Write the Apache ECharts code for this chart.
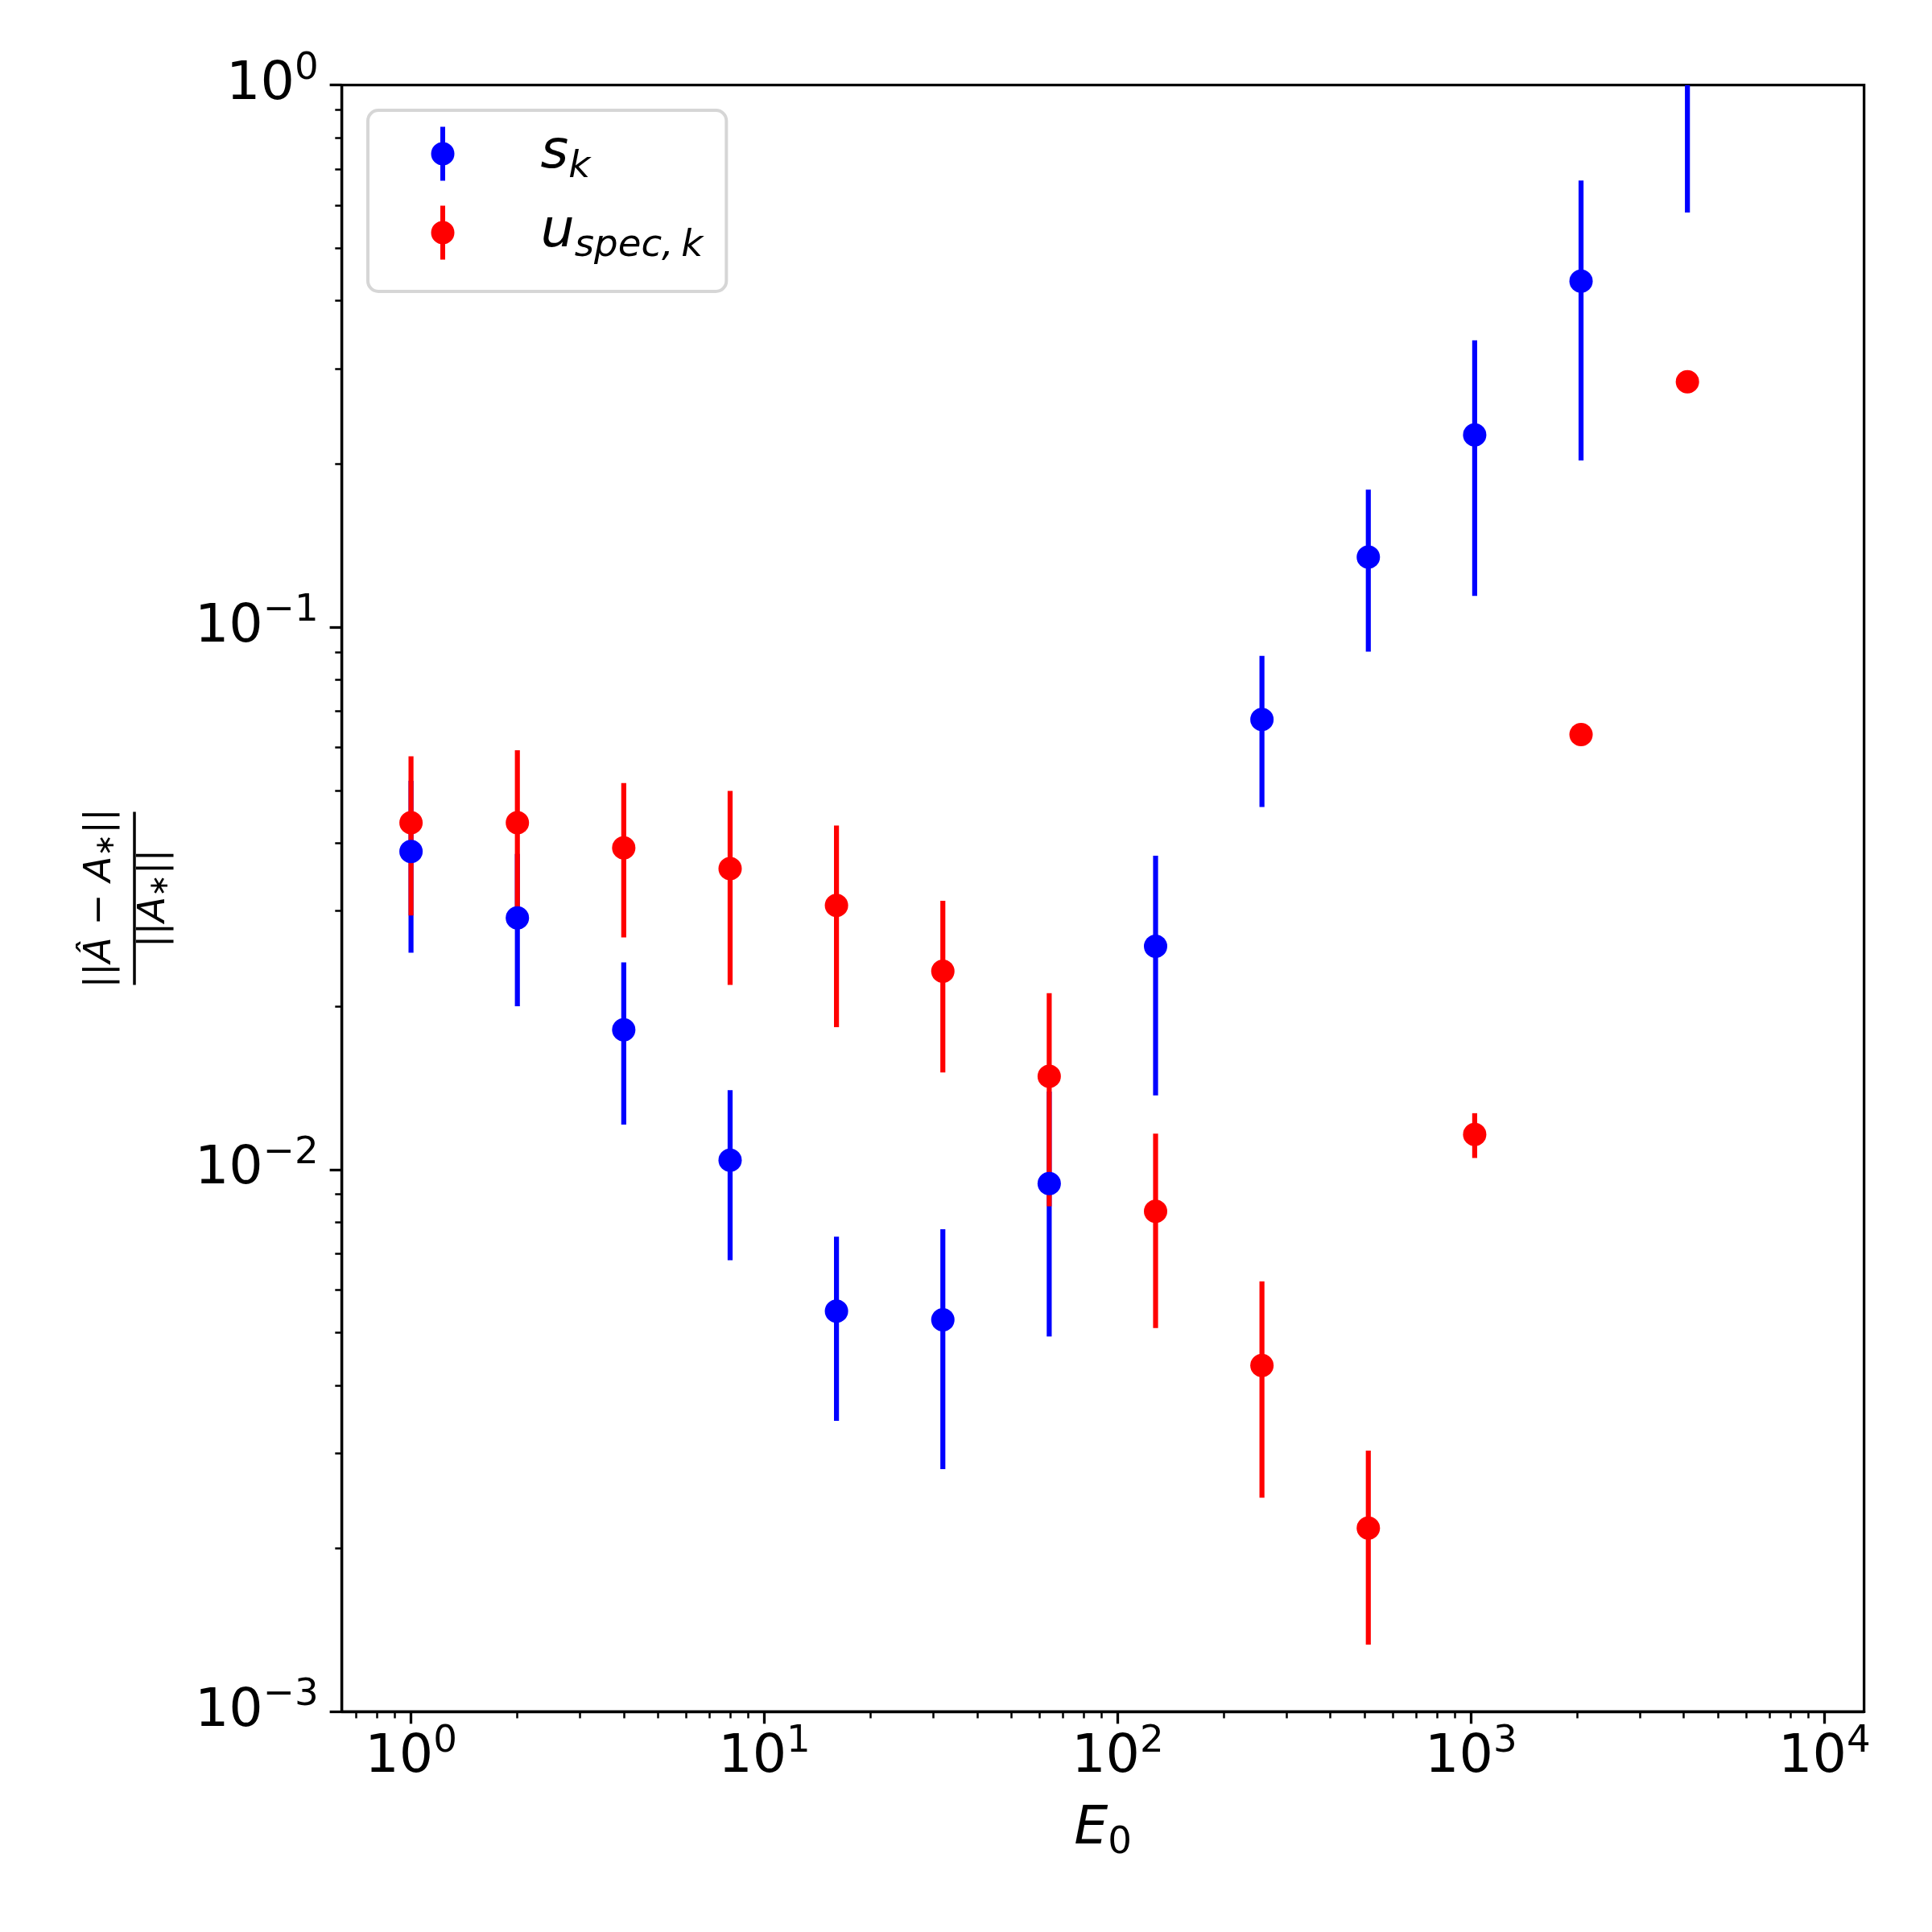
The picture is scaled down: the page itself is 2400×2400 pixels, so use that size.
<!DOCTYPE html>
<html>
<head>
<meta charset="utf-8">
<script src="https://cdn.jsdelivr.net/npm/echarts@6/dist/echarts.min.js"></script>
<style>
  html, body { margin: 0; padding: 0; background: #fff; }
  #chart { width: 2400px; height: 2400px; }
</style>
</head>
<body>
<div id="chart"></div>
<script>
// E0 values (x) and the two error-bar series: mean and std
const e0 = [1, 2, 4, 8, 16, 32, 64, 128, 256, 512, 1024, 2048, 4096]
const sMean = [0.0386, 0.0291, 0.0181, 0.0104, 0.00548, 0.00528, 0.00942, 0.0258, 0.0676, 0.1348, 0.2263, 0.435, 1.25]
const sStd = [0.0135, 0.0091, 0.0060, 0.0036, 0.00204, 0.00248, 0.0045, 0.0121, 0.0210, 0.0446, 0.112, 0.232, 0.668]
const uMean = [0.0436, 0.0436, 0.0392, 0.0359, 0.0307, 0.0232, 0.01485, 0.00837, 0.00435, 0.00218, 0.0116, 0.0634, 0.2836]
const uStd = [0.0142, 0.0157, 0.0124, 0.0140, 0.0124, 0.0081, 0.0063, 0.00327, 0.00187, 0.00085, 0.0011, 0.002, 0.008]

// axis ranges (data units) and decade tick labels (exponents)
const xRange = [0.637, 12950]
const yRange = [0.001, 1]
const xDecades = [0, 1, 2, 3, 4]
const yDecades = [-3, -2, -1, 0]

const FONT = 'DejaVu Sans'
const lg = (v) => Math.log10(v)

function minorTicks(range) {
  const lo = lg(range[0])
  const hi = lg(range[1])
  const out = []
  for (let k = Math.floor(lo); k <= Math.ceil(hi); k++) {
    for (let m = 2; m <= 9; m++) {
      const v = lg(m) + k
      if (v > lo && v < hi) out.push(v)
    }
  }
  return out
}

function expLabel(v) {
  const n = Math.round(v)
  const e = n < 0 ? '\u2212' + (-n) : String(n)
  return '{b|10}{s|' + e + '}'
}

const tickRich = {
  b: { fontSize: 66.7, fontFamily: FONT, lineHeight: 67, color: '#000' },
  s: { fontSize: 46.7, fontFamily: FONT, lineHeight: 67, padding: [0, 0, 40, 0], color: '#000' }
}

const mathRich = {
  i: { fontSize: 66.7, fontFamily: FONT, fontStyle: 'italic', lineHeight: 67, color: '#000' },
  sub: { fontSize: 46.7, fontFamily: FONT, lineHeight: 67, padding: [34, 0, 0, 0], color: '#000' }
}

const legendRich = {
  i: { fontSize: 66.7, fontFamily: FONT, fontStyle: 'italic', lineHeight: 67, color: '#000', padding: [0, 0, 0, 102] },
  sub: { fontSize: 46.7, fontFamily: FONT, fontStyle: 'italic', lineHeight: 67, padding: [34, 0, 0, 0], color: '#000' }
}

// legend handle: vertical bar with a dot
const handleIcon = 'path://M11.5,0 H17.5 V67 H11.5 Z M0,33.5 A14.5,14.5 0 1,1 29,33.5 A14.5,14.5 0 1,1 0,33.5 Z'

const color = ['#0000ff', '#ff0000']

function barData(mean, std) {
  return e0.map((x, i) => [lg(x), lg(mean[i] - std[i]), lg(mean[i] + std[i])])
}

function renderBar(params, api) {
  const cs = params.coordSys
  const p1 = api.coord([api.value(0), api.value(1)])
  const p2 = api.coord([api.value(0), api.value(2)])
  const top = cs.y
  const bottom = cs.y + cs.height
  const y1 = Math.min(Math.max(p1[1], top), bottom)
  const y2 = Math.min(Math.max(p2[1], top), bottom)
  if (y1 === y2) return null
  return {
    type: 'line',
    shape: { x1: p1[0], y1: y1, x2: p2[0], y2: y2 },
    style: { stroke: api.visual('color'), lineWidth: 6.2 }
  }
}

function initChart() {
  const myChart = echarts.init(document.getElementById('chart'), null, { renderer: 'canvas' })
  const xMin = lg(xRange[0])
  const xMax = lg(xRange[1])
  const yMin = lg(yRange[0])
  const yMax = lg(yRange[1])

  const option = {
    backgroundColor: '#fff',
    animation: false,
    grid: {
      left: 424.6,
      right: 84.4,
      top: 105.7,
      bottom: 273.7,
      show: true,
      borderColor: '#000',
      borderWidth: 3.3,
      backgroundColor: 'transparent'
    },
    legend: {
      left: 457,
      top: 137,
      orient: 'vertical',
      padding: [13.5, 29, 32.5, 78.5],
      itemWidth: 29,
      itemHeight: 67,
      itemGap: 17,
      backgroundColor: 'rgba(255,255,255,0.8)',
      borderColor: '#d6d6d6',
      borderWidth: 4,
      borderRadius: 13,
      data: [
        { name: 's_k', icon: handleIcon },
        { name: 'u_spec,k', icon: handleIcon }
      ],
      formatter: (name) => name === 's_k' ? '{i|s}{sub|k}' : '{i|u}{sub|spec,\u2009k}',
      textStyle: { rich: legendRich }
    },
    xAxis: [
      {
        type: 'value',
        min: xMin,
        max: xMax,
        position: 'bottom',
        name: '{i|E}{sub|0}',
        nameLocation: 'middle',
        nameGap: 104,
        nameTextStyle: { rich: mathRich },
        axisLine: { show: true, onZero: false, lineStyle: { color: '#000', width: 3.3 } },
        axisTick: { show: true, customValues: xDecades, length: 15, lineStyle: { color: '#000', width: 3.3 } },
        axisLabel: { customValues: xDecades, margin: 24, formatter: expLabel, rich: tickRich },
        splitLine: { show: false }
      },
      {
        type: 'value',
        min: xMin,
        max: xMax,
        position: 'bottom',
        axisLine: { show: false, onZero: false },
        axisTick: { show: true, customValues: minorTicks(xRange), length: 8.3, lineStyle: { color: '#000', width: 2.5 } },
        axisLabel: { show: false },
        splitLine: { show: false }
      }
    ],
    yAxis: [
      {
        type: 'value',
        min: yMin,
        max: yMax,
        position: 'left',
        axisLine: { show: true, onZero: false, lineStyle: { color: '#000', width: 3.3 } },
        axisTick: { show: true, customValues: yDecades, length: 15, lineStyle: { color: '#000', width: 3.3 } },
        axisLabel: { customValues: yDecades, margin: 29, formatter: expLabel, rich: tickRich },
        splitLine: { show: false }
      },
      {
        type: 'value',
        min: yMin,
        max: yMax,
        position: 'left',
        axisLine: { show: false, onZero: false },
        axisTick: { show: true, customValues: minorTicks(yRange), length: 8.3, lineStyle: { color: '#000', width: 2.5 } },
        axisLabel: { show: false },
        splitLine: { show: false }
      }
    ],
    graphic: [
      {
        type: 'group',
        x: 167,
        y: 1116,
        rotation: Math.PI / 2,
        children: [
          {
            type: 'text',
            x: 0,
            y: -42,
            style: {
              text: '{p|||}{a|\u00C2}{p| \u2212 }{a|A}{s|\u2217}{p|||}',
              align: 'center',
              verticalAlign: 'middle',
              rich: {
                p: { fontSize: 46.7, fontFamily: FONT, lineHeight: 47, color: '#000' },
                a: { fontSize: 46.7, fontFamily: FONT, fontStyle: 'italic', lineHeight: 47, color: '#000' },
                s: { fontSize: 33, fontFamily: FONT, lineHeight: 47, padding: [14, 0, 0, 0], color: '#000' }
              }
            }
          },
          {
            type: 'line',
            shape: { x1: -107.5, y1: 0, x2: 107.5, y2: 0 },
            style: { stroke: '#000', lineWidth: 3.5 }
          },
          {
            type: 'text',
            x: 0,
            y: 25.3,
            style: {
              text: '{p|||}{a|A}{s|\u2217}{p|||}',
              align: 'center',
              verticalAlign: 'middle',
              rich: {
                p: { fontSize: 46.7, fontFamily: FONT, lineHeight: 47, color: '#000' },
                a: { fontSize: 46.7, fontFamily: FONT, fontStyle: 'italic', lineHeight: 47, color: '#000' },
                s: { fontSize: 33, fontFamily: FONT, lineHeight: 47, padding: [14, 0, 0, 0], color: '#000' }
              }
            }
          }
        ]
      }
    ],
    series: [
      {
        name: 's_k bars',
        type: 'custom',
        renderItem: renderBar,
        itemStyle: { color: color[0] },
        encode: { x: 0, y: [1, 2] },
        data: barData(sMean, sStd),
        z: 2
      },
      {
        name: 'u_spec,k bars',
        type: 'custom',
        renderItem: renderBar,
        itemStyle: { color: color[1] },
        encode: { x: 0, y: [1, 2] },
        data: barData(uMean, uStd),
        z: 2
      },
      {
        name: 's_k',
        type: 'scatter',
        symbol: 'circle',
        symbolSize: 29,
        itemStyle: { color: color[0], opacity: 1 },
        data: e0.map((x, i) => [lg(x), lg(sMean[i])]),
        z: 3
      },
      {
        name: 'u_spec,k',
        type: 'scatter',
        symbol: 'circle',
        symbolSize: 29,
        itemStyle: { color: color[1], opacity: 1 },
        data: e0.map((x, i) => [lg(x), lg(uMean[i])]),
        z: 3
      }
    ]
  }

  myChart.setOption(option, true)
}

initChart()
</script>
</body>
</html>
